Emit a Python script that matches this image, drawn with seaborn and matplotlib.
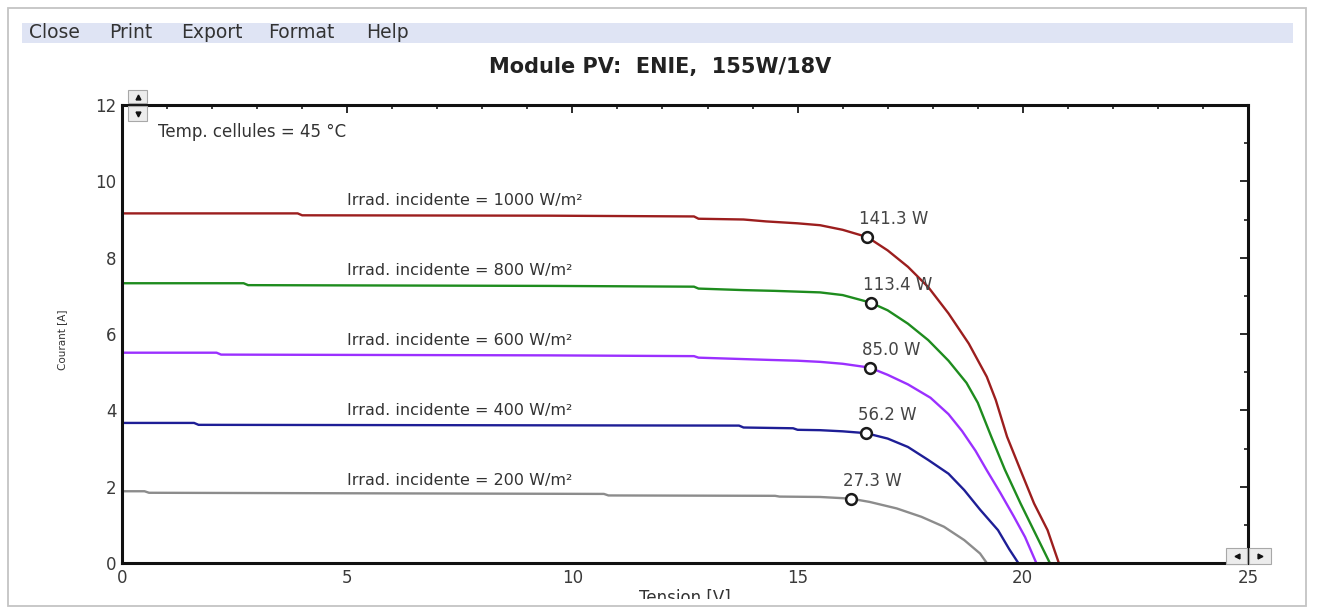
import numpy as np
import pandas as pd
import matplotlib
matplotlib.use("Agg")
import matplotlib.pyplot as plt
from matplotlib.patches import Rectangle
from matplotlib.lines import Line2D
from matplotlib.ticker import MultipleLocator
import seaborn as sns

# ---- data: I-V curves of the PV module at 45 °C cell temperature ----
irradiances = [1000, 800, 600, 400, 200]

v_1000 = [0.0, 3.9, 4.0, 9.5, 12.7, 12.8, 13.8, 14.3, 15.0, 15.5, 16.0, 16.55,
          17.0, 17.45, 17.9, 18.35, 18.8, 19.2, 19.4, 19.65, 19.95, 20.25, 20.55, 20.8]
i_1000 = [9.16, 9.16, 9.11, 9.10, 9.08, 9.02, 9.00, 8.95, 8.90, 8.85, 8.73, 8.538,
          8.19, 7.76, 7.23, 6.54, 5.75, 4.88, 4.27, 3.31, 2.43, 1.56, 0.86, 0.0]

v_800 = [0.0, 2.7, 2.8, 9.5, 12.7, 12.8, 13.8, 14.5, 15.0, 15.5, 16.0, 16.62,
         17.0, 17.45, 17.9, 18.35, 18.75, 19.0, 19.3, 19.6, 19.95, 20.3, 20.6]
i_800 = [7.33, 7.33, 7.28, 7.26, 7.24, 7.19, 7.15, 7.13, 7.11, 7.09, 7.02, 6.823,
         6.62, 6.27, 5.84, 5.30, 4.72, 4.20, 3.31, 2.45, 1.56, 0.72, 0.0]

v_600 = [0.0, 2.1, 2.2, 9.5, 12.7, 12.8, 14.4, 15.0, 15.5, 16.0, 16.6, 17.0,
         17.45, 17.95, 18.35, 18.65, 18.95, 19.2, 19.5, 19.8, 20.05, 20.3]
i_600 = [5.51, 5.51, 5.46, 5.44, 5.42, 5.38, 5.32, 5.30, 5.27, 5.22, 5.12, 4.93,
         4.68, 4.33, 3.90, 3.46, 2.94, 2.43, 1.84, 1.22, 0.68, 0.0]

v_400 = [0.0, 1.6, 1.7, 13.7, 13.8, 14.9, 15.0, 15.5, 16.0, 16.52, 17.0, 17.45,
         17.9, 18.35, 18.7, 19.05, 19.45, 19.7, 19.9]
i_400 = [3.67, 3.67, 3.62, 3.60, 3.55, 3.53, 3.49, 3.48, 3.45, 3.402, 3.26, 3.04,
         2.70, 2.34, 1.91, 1.40, 0.86, 0.36, 0.0]

v_200 = [0.0, 0.5, 0.6, 10.7, 10.8, 14.5, 14.6, 15.5, 16.18, 16.6, 17.2, 17.75,
         18.25, 18.7, 19.05, 19.2]
i_200 = [1.88, 1.88, 1.84, 1.81, 1.77, 1.76, 1.74, 1.73, 1.687, 1.60, 1.43, 1.21,
         0.95, 0.60, 0.25, 0.0]

# maximum power points
mpp_voltage = [16.55, 16.62, 16.6, 16.52, 16.18]
mpp_power = [141.3, 113.4, 85.0, 56.2, 27.3]

# label anchors for each curve (V, A)
label_x = 5.0
label_y = [9.5, 7.67, 5.84, 4.0, 2.17]

curve_colors = ["#9c1e1e", "#1e8c1e", "#9b30ff", "#1e1e96", "#8c8c8c"]
x_ticks = [0, 5, 10, 15, 20, 25]
y_ticks = [0, 2, 4, 6, 8, 10, 12]
menu_items = ["Close", "Print", "Export", "Format", "Help"]
menu_x = [29, 109, 181, 268, 366]

title = "Module PV:  ENIE,  155W/18V"
temp_text = "Temp. cellules = 45 °C"

# ---- figure ----
sns.set_style("white")
plt.rcParams["font.family"] = ["DejaVu Sans"]

W, H = 1319, 613
fig = plt.figure(figsize=(W / 100, H / 100), dpi=100)
fig.patch.set_facecolor("white")


def fx(px):
    return px / W


def fy(py):
    return 1 - py / H


ax_left, ax_right, ax_top, ax_bottom = 122, 1248, 105, 563
ax = fig.add_axes([fx(ax_left), fy(ax_bottom), (ax_right - ax_left) / W,
                   (ax_bottom - ax_top) / H])

frames = []
for irr, v, i in zip(irradiances, [v_1000, v_800, v_600, v_400, v_200],
                     [i_1000, i_800, i_600, i_400, i_200]):
    frames.append(pd.DataFrame({"Tension": v, "Courant": i,
                                "Irradiance": f"{irr} W/m²"}))
df = pd.concat(frames, ignore_index=True)
hue_order = [f"{irr} W/m²" for irr in irradiances]

sns.lineplot(data=df, x="Tension", y="Courant", hue="Irradiance",
             hue_order=hue_order, palette=curve_colors, sort=False,
             estimator=None, linewidth=1.7, legend=False, ax=ax)

mpp_current = [p / v for p, v in zip(mpp_power, mpp_voltage)]
sns.scatterplot(x=mpp_voltage, y=mpp_current, marker="o", s=60,
                facecolor="white", edgecolor="#1a1a1a", linewidth=1.8,
                zorder=5, legend=False, ax=ax)

for v, i, p in zip(mpp_voltage, mpp_current, mpp_power):
    ax.annotate(f"{p:.1f} W", xy=(v, i), xytext=(-8, 18),
                textcoords="offset pixels", ha="left", va="center",
                fontsize=12, color="#444444")

for irr, ly in zip(irradiances, label_y):
    ax.text(label_x, ly, f"Irrad. incidente = {irr} W/m²", ha="left",
            va="center", fontsize=11.5, color="#333333")

ax.text(0.8, 11.29, temp_text, ha="left", va="center", fontsize=12,
        color="#333333")

ax.set_xlim(0, 25)
ax.set_ylim(0, 12)
ax.set_xticks(x_ticks)
ax.set_yticks(y_ticks)
ax.xaxis.set_minor_locator(MultipleLocator(1))
ax.yaxis.set_minor_locator(MultipleLocator(1))
ax.tick_params(which="both", direction="in", top=True, right=True,
               colors="#1a1a1a", labelcolor="#3a3a3a", labelsize=12)
ax.tick_params(which="major", length=6, width=1.3)
ax.tick_params(which="minor", length=3, width=1.2)
ax.tick_params(axis="x", pad=4)
ax.tick_params(axis="y", pad=4)
ax.set_xlabel("")
ax.set_ylabel("")
for sp in ax.spines.values():
    sp.set_linewidth(2.2)
    sp.set_color("#111111")

# ---- window chrome ----
fig.add_artist(Rectangle((fx(8), fy(606)), fx(1306) - fx(8), fy(8) - fy(606),
                         transform=fig.transFigure, fill=False,
                         edgecolor="#c4c4c4", linewidth=1.3, zorder=6))
fig.add_artist(Rectangle((fx(22), fy(43)), fx(1293) - fx(22), fy(23) - fy(43),
                         transform=fig.transFigure, facecolor="#dfe4f4",
                         edgecolor="none", zorder=1))
for name, mx in zip(menu_items, menu_x):
    fig.text(fx(mx), fy(33), name, ha="left", va="center", fontsize=13.5,
             color="#333333")

fig.text(fx(660), fy(67), title, ha="center", va="center", fontsize=15,
         fontweight="bold", color="#222222")

fig.text(fx(62), fy(340), "Courant [A]", rotation=90, ha="center",
         va="center", fontsize=7.5, color="#333333",
         family=["Liberation Sans Narrow", "DejaVu Sans"])

fig.text(fx(685), fy(589), "Tension [V]", ha="center", va="top",
         fontsize=12, color="#333333", zorder=3)
fig.add_artist(Rectangle((0, 0), 1, fy(599), transform=fig.transFigure,
                         facecolor="white", edgecolor="none", zorder=4))


def button(x0, y0, x1, y1, marker):
    fig.add_artist(Rectangle((fx(x0), fy(y1)), fx(x1) - fx(x0), fy(y0) - fy(y1),
                             transform=fig.transFigure, facecolor="#ececec",
                             edgecolor="#a8a8a8", linewidth=0.8, zorder=7))
    fig.add_artist(Line2D([fx((x0 + x1) / 2)], [fy((y0 + y1) / 2)],
                          transform=fig.transFigure, marker=marker,
                          markersize=3.5, color="#111111", linestyle="none",
                          zorder=8))


button(128, 90, 147, 103, "^")
button(128, 106, 147, 121, "v")
button(1226, 548, 1247, 564, "<")
button(1249, 548, 1271, 564, ">")

fig.savefig("out.png", dpi=100)
